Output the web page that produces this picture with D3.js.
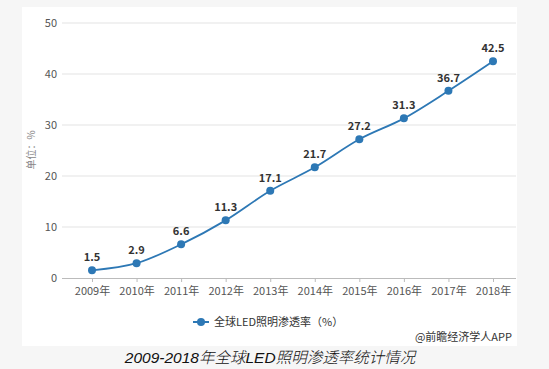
<!DOCTYPE html>
<html><head><meta charset="utf-8">
<script src="https://cdn.jsdelivr.net/npm/d3@7"></script>
<style>body{margin:0;background:#f6f6f6;}svg{display:block;}</style>
</head><body>
<svg id="c" width="549" height="369"></svg>
<script>
const years = ["2009年","2010年","2011年","2012年","2013年","2014年","2015年","2016年","2017年","2018年"];
const values = [1.5, 2.9, 6.6, 11.3, 17.1, 21.7, 27.2, 31.3, 36.7, 42.5];
const yTicks = [0, 10, 20, 30, 40, 50];
const seriesName = "全球LED照明渗透率（%）";
const yTitle = "单位：%";
const source = "@前瞻经济学人APP";
const caption = "2009-2018年全球LED照明渗透率统计情况";

const font = "'Microsoft YaHei','Noto Sans CJK SC',sans-serif";
const svg = d3.select("#c");
svg.append("rect").attr("x",0).attr("y",0).attr("width",549).attr("height",369).attr("fill","#f6f6f6");
svg.append("rect").attr("x",22).attr("y",7).attr("width",495).attr("height",339).attr("fill","#fff");

const x = d3.scalePoint().domain(years).range([92, 493]);
const y = d3.scaleLinear().domain([0, 50]).range([278, 23]);
const left = 62, right = 516;

svg.append("g").selectAll("line").data(yTicks.filter(d=>d>0)).join("line")
  .attr("x1", left).attr("x2", right).attr("y1", d=>y(d)).attr("y2", d=>y(d))
  .attr("stroke", "#e3e3e3").attr("stroke-width", 1);

svg.append("g").selectAll("text").data(yTicks).join("text")
  .attr("x", 57).attr("y", d=>y(d)+4).attr("text-anchor","end")
  .attr("font-family", font).attr("font-size", 11).attr("fill","#555")
  .text(d=>d);

const xa = svg.append("g").attr("transform","translate(0,278)")
  .call(d3.axisBottom(x).tickSize(4).tickPadding(5));
xa.select(".domain").remove();
xa.selectAll(".tick line").attr("stroke","#bbb");
xa.selectAll(".tick text").attr("font-family", font).attr("font-size", 11).attr("fill","#555");
svg.append("line").attr("x1",left).attr("x2",right).attr("y1",278.5).attr("y2",278.5).attr("stroke","#bbb");

svg.append("text").attr("transform","translate(35,150) rotate(-90)").attr("text-anchor","middle")
  .attr("font-family", font).attr("font-size", 10).attr("fill","#888").text(yTitle);

const color = "#2d78b5";
const line = d3.line().x((d,i)=>x(years[i])).y(d=>y(d)).curve(d3.curveMonotoneX);
svg.append("path").datum(values).attr("d", line).attr("fill","none").attr("stroke",color).attr("stroke-width",1.8);
svg.append("g").selectAll("circle").data(values).join("circle")
  .attr("cx",(d,i)=>x(years[i])).attr("cy",d=>y(d)).attr("r",4).attr("fill",color);
svg.append("g").selectAll("text").data(values).join("text")
  .attr("x",(d,i)=>x(years[i])).attr("y",d=>y(d)-9).attr("text-anchor","middle")
  .attr("font-family", font).attr("font-size", 11).attr("font-weight","bold").attr("fill","#333")
  .text(d=>d);

const lg = svg.append("g");
lg.append("line").attr("x1",193).attr("x2",209).attr("y1",322).attr("y2",322).attr("stroke",color).attr("stroke-width",2);
lg.append("circle").attr("cx",201).attr("cy",322).attr("r",4).attr("fill",color);
lg.append("text").attr("x",214).attr("y",326).attr("font-family", font).attr("font-size", 11).attr("fill","#333").text(seriesName);

svg.append("text").attr("x",512).attr("y",341).attr("text-anchor","end")
  .attr("font-family", font).attr("font-size", 11).attr("fill","#333").text(source);

svg.append("text").attr("x",270).attr("y",363).attr("text-anchor","middle")
  .attr("font-family", "'Liberation Sans','Noto Sans CJK SC',sans-serif").attr("font-size", 15.5)
  .attr("font-style","italic").attr("font-weight",300).attr("fill","#111").text(caption);
</script>
</body></html>
